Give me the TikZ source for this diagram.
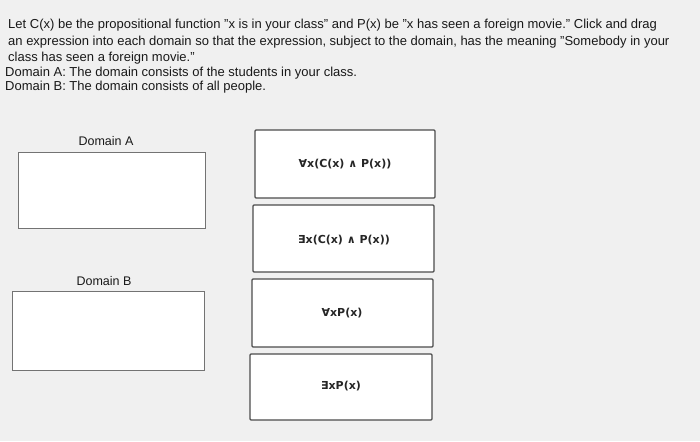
\documentclass[tikz,border=0pt]{standalone}
\usepackage{fontspec}
\setmainfont{Liberation Sans}
\newfontfamily\symf{DejaVu Sans}
\begin{document}
\begin{tikzpicture}[x=1pt,y=-1pt,
  txt/.style={anchor=west,inner sep=0pt,font=\fontsize{13}{15}\selectfont,text=black!90},
  lbl/.style={inner sep=0pt,font=\fontsize{12.5}{14}\selectfont,text=black!90},
  drop/.style={draw=black!55,line width=1pt,fill=white},
  opt/.style={draw=black!70,line width=1.1pt,fill=white,rounded corners=1pt},
  frm/.style={inner sep=0pt,font=\symf\bfseries\fontsize{11}{13}\selectfont,text=black!85}]
\useasboundingbox[fill=black!6] (0,0) rectangle (700,441);
\node[txt] (l1) at (8,25) {Let C(x) be the propositional function "x is in your class" and P(x) be "x has seen a foreign movie." Click and drag};
\node[txt] (l2) at (8,42) {an expression into each domain so that the expression, subject to the domain, has the meaning "Somebody in your};
\node[txt] (l3) at (8,58) {class has seen a foreign movie."};
\node[txt] (l4) at (5,73) {Domain A: The domain consists of the students in your class.};
\node[txt] (l5) at (5,87) {Domain B: The domain consists of all people.};
\node[lbl] (da) at (106,141) {Domain A};
\draw[drop] (18,152) rectangle (205,228);
\node[lbl] (db) at (104,281) {Domain B};
\draw[drop] (12,291) rectangle (204,370);
\draw[opt] (255,130) rectangle (435,198);
\node[frm] (f1) at (345,164) {∀x(C(x) ∧ P(x))};
\draw[opt] (253,205) rectangle (434,272);
\node[frm] (f2) at (344,240) {∃x(C(x) ∧ P(x))};
\draw[opt] (252,279) rectangle (433,347);
\node[frm] (f3) at (342,313) {∀xP(x)};
\draw[opt] (250,354) rectangle (432,420);
\node[frm] (f4) at (341,386) {∃xP(x)};
\end{tikzpicture}
\end{document}
